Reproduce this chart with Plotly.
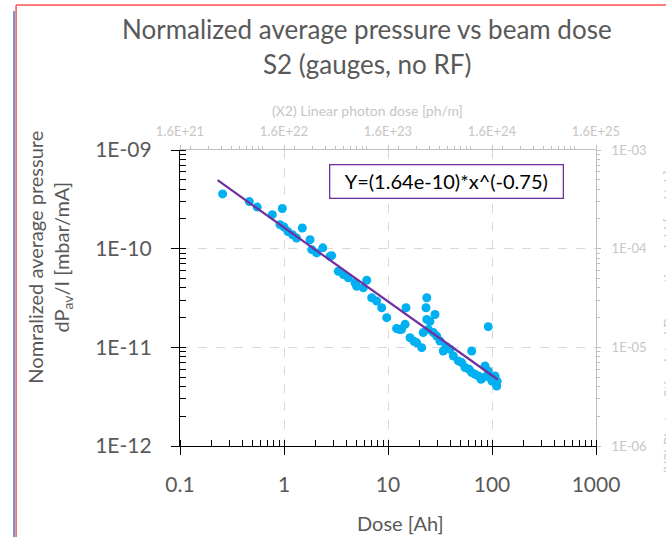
import plotly.graph_objects as go

# ---- data ----
dose_ah = [0.257, 0.464, 0.553, 0.772, 0.963, 0.915, 1.00, 1.09, 1.21, 1.32,
           1.50, 1.78, 1.85, 2.06, 2.36, 2.77, 2.87, 3.33, 3.72, 4.15,
           4.82, 5.00, 6.24, 5.79, 6.97, 7.78, 8.69, 9.72, 12.1, 13.5,
           14.9, 14.6, 16.3, 18.9, 21.1, 23.6, 23.2, 23.6, 24.4, 21.8,
           28.3, 27.3, 29.4, 31.6, 34.0, 39.5, 42.5, 47.4, 51.1, 63.8,
           55.0, 63.8, 73.8, 85.7, 92.1, 92.1, 107, 82.4, 111, 100,
           68.7, 60.1, 78.4, 95.7, 112, 36.1, 25.3, 17.8, 12.8]
pressure = [3.59e-10, 3.00e-10, 2.64e-10, 2.21e-10, 2.55e-10, 1.75e-10, 1.66e-10, 1.49e-10, 1.38e-10, 1.28e-10,
            1.62e-10, 1.23e-10, 9.77e-11, 9.05e-11, 1.02e-10, 8.36e-11, 8.50e-11, 5.90e-11, 5.46e-11, 5.06e-11,
            4.51e-11, 4.16e-11, 4.79e-11, 4.01e-11, 3.18e-11, 2.94e-11, 2.52e-11, 2.00e-11, 1.55e-11, 1.52e-11,
            2.52e-11, 1.71e-11, 1.25e-11, 1.11e-11, 9.93e-12, 3.18e-11, 2.52e-11, 1.92e-11, 1.52e-11, 1.41e-11,
            2.15e-11, 1.41e-11, 1.30e-11, 1.16e-11, 9.18e-12, 9.55e-12, 8.17e-12, 7.28e-12, 7.00e-12, 9.18e-12,
            6.24e-12, 5.55e-12, 5.13e-12, 6.47e-12, 1.62e-11, 5.77e-12, 5.13e-12, 4.94e-12, 4.06e-12, 4.54e-12,
            5.33e-12, 6.00e-12, 4.75e-12, 4.98e-12, 4.54e-12, 1.02e-11, 1.83e-11, 1.15e-11, 1.52e-11]

fit_x = [0.23, 113.5]
fit_y = [4.94e-10, 4.72e-12]
fit_label = "Y=(1.64e-10)*x^(-0.75)"

x_ticks = [0.1, 1, 10, 100, 1000]
x_tick_text = ["0.1", "1", "10", "100", "1000"]
y_ticks = [1e-12, 1e-11, 1e-10, 1e-9]
y_tick_text = ["1E-12", "1E-11", "1E-10", "1E-09"]
x2_ticks = [1.6e21, 1.6e22, 1.6e23, 1.6e24, 1.6e25]
x2_tick_text = ["1.6E+21", "1.6E+22", "1.6E+23", "1.6E+24", "1.6E+25"]
y2_ticks = [1e-6, 1e-5, 1e-4, 1e-3]
y2_tick_text = ["1E-06", "1E-05", "1E-04", "1E-03"]

FONT = "Lato"
DARK = "#595959"
LIGHT = "#BFBFBF"
LIGHTTXT = "#C6C6C6"
BLUE = "#00B0F0"
PURPLE = "#7030A0"

fig = go.Figure()
fig.add_trace(go.Scatter(x=dose_ah, y=pressure, mode="markers",
                         marker=dict(color=BLUE, size=9, line=dict(width=0)),
                         xaxis="x", yaxis="y"))
fig.add_trace(go.Scatter(x=fit_x, y=fit_y, mode="lines",
                         line=dict(color=PURPLE, width=2.2), xaxis="x", yaxis="y"))
# invisible trace to activate the secondary axes
fig.add_trace(go.Scatter(x=[x2_ticks[0]], y=[y2_ticks[0]], mode="markers",
                         marker=dict(opacity=0), xaxis="x2", yaxis="y2", hoverinfo="skip"))

fig.update_layout(
    width=666, height=537,
    margin=dict(l=180, r=70, t=150, b=91),
    paper_bgcolor="white", plot_bgcolor="white",
    showlegend=False,
    font=dict(family=FONT, color=DARK),
    xaxis=dict(type="log", range=[-1, 3], tickvals=x_ticks, ticktext=x_tick_text,
               tickfont=dict(size=21, color=DARK), ticks="outside", ticklen=8,
               tickcolor="black", linecolor="black", linewidth=1.3, showline=True,
               showgrid=True, gridcolor="#D9D9D9", griddash="dash", gridwidth=1,
               ticklabelstandoff=12, zeroline=False,
               minor=dict(ticks="inside", ticklen=6, tickcolor="black", showgrid=False,
                          dtick="D1")),
    yaxis=dict(type="log", range=[-12, -9], tickvals=y_ticks, ticktext=y_tick_text,
               tickfont=dict(size=21, color=DARK), ticks="outside", ticklen=8,
               tickcolor="black", linecolor="black", linewidth=1.3, showline=True,
               showgrid=True, gridcolor="#D9D9D9", griddash="dash", gridwidth=1,
               ticklabelstandoff=15, zeroline=False,
               minor=dict(ticks="inside", ticklen=6, tickcolor="black", showgrid=False,
                          dtick="D1")),
    xaxis2=dict(type="log", range=[21.2041, 25.2041], overlaying="x", side="top",
                anchor="y2", tickvals=x2_ticks, ticktext=x2_tick_text,
                tickfont=dict(size=13, color=LIGHTTXT), ticks="outside", ticklen=4,
                tickcolor=LIGHT, linecolor=LIGHT, showline=True, showgrid=False,
                zeroline=False, ticklabelstandoff=4,
                minor=dict(ticks="outside", ticklen=3, tickcolor=LIGHT, dtick="D1")),
    yaxis2=dict(type="log", range=[-6, -3], overlaying="y", side="right", anchor="x2",
                tickvals=y2_ticks, ticktext=y2_tick_text,
                tickfont=dict(size=13, color=LIGHTTXT), ticks="outside", ticklen=4,
                tickcolor=LIGHT, linecolor=LIGHT, showline=True, showgrid=False,
                zeroline=False, ticklabelstandoff=8,
                minor=dict(ticks="outside", ticklen=3, tickcolor=LIGHT, dtick="D1")),
    annotations=[
        dict(text="Normalized average pressure vs beam dose",
             xref="paper", yref="paper", x=0.449, y=1.409, showarrow=False,
             font=dict(size=26, color=DARK), xanchor="center", yanchor="middle"),
        dict(text="S2 (gauges, no RF)",
             xref="paper", yref="paper", x=0.449, y=1.291, showarrow=False,
             font=dict(size=26, color=DARK), xanchor="center", yanchor="middle"),
        dict(text="(X2) Linear photon dose [ph/m]",
             xref="paper", yref="paper", x=0.45, y=1.135, showarrow=False,
             font=dict(size=14, color=LIGHTTXT), xanchor="center", yanchor="middle"),
        dict(text="Dose [Ah]",
             xref="paper", yref="paper", x=0.53, y=-0.26, showarrow=False,
             font=dict(size=20, color=DARK), xanchor="center", yanchor="middle"),
        dict(text="Nomralized average pressure<br>dP<sub>av</sub>/I [mbar/mA]",
             xref="paper", yref="paper", x=-0.313, y=0.639, textangle=-90,
             showarrow=False, font=dict(size=20, color=DARK), xanchor="center",
             yanchor="middle"),
        dict(text="(X2) Photon Stimulated Desorption yield [mol/ph]",
             xref="paper", yref="paper", x=1.175, y=0.42, textangle=-90,
             showarrow=False, font=dict(size=14, color=LIGHTTXT),
             xanchor="center", yanchor="middle"),
        dict(text=fit_label, xref="paper", yref="paper", x=0.64, y=0.895,
             showarrow=False, font=dict(size=20, color="black"),
             bordercolor=PURPLE, borderwidth=1.3, borderpad=4, bgcolor="white",
             width=224, xanchor="center", yanchor="middle"),
    ],
    shapes=[
        dict(type="line", xref="paper", yref="paper", x0=-0.394, x1=1.2,
             y0=1.490, y1=1.490, line=dict(color="#FF5050", width=1.5)),
        dict(type="line", xref="paper", yref="paper", x0=-0.394, x1=-0.394,
             y0=1.490, y1=-0.4, line=dict(color="#FF5050", width=1.5)),
        dict(type="line", xref="paper", yref="paper", x0=-0.399, x1=-0.399,
             y0=1.47, y1=-0.4, line=dict(color="#4472C4", width=1.5)),
    ],
)

fig.write_html("out.html")
